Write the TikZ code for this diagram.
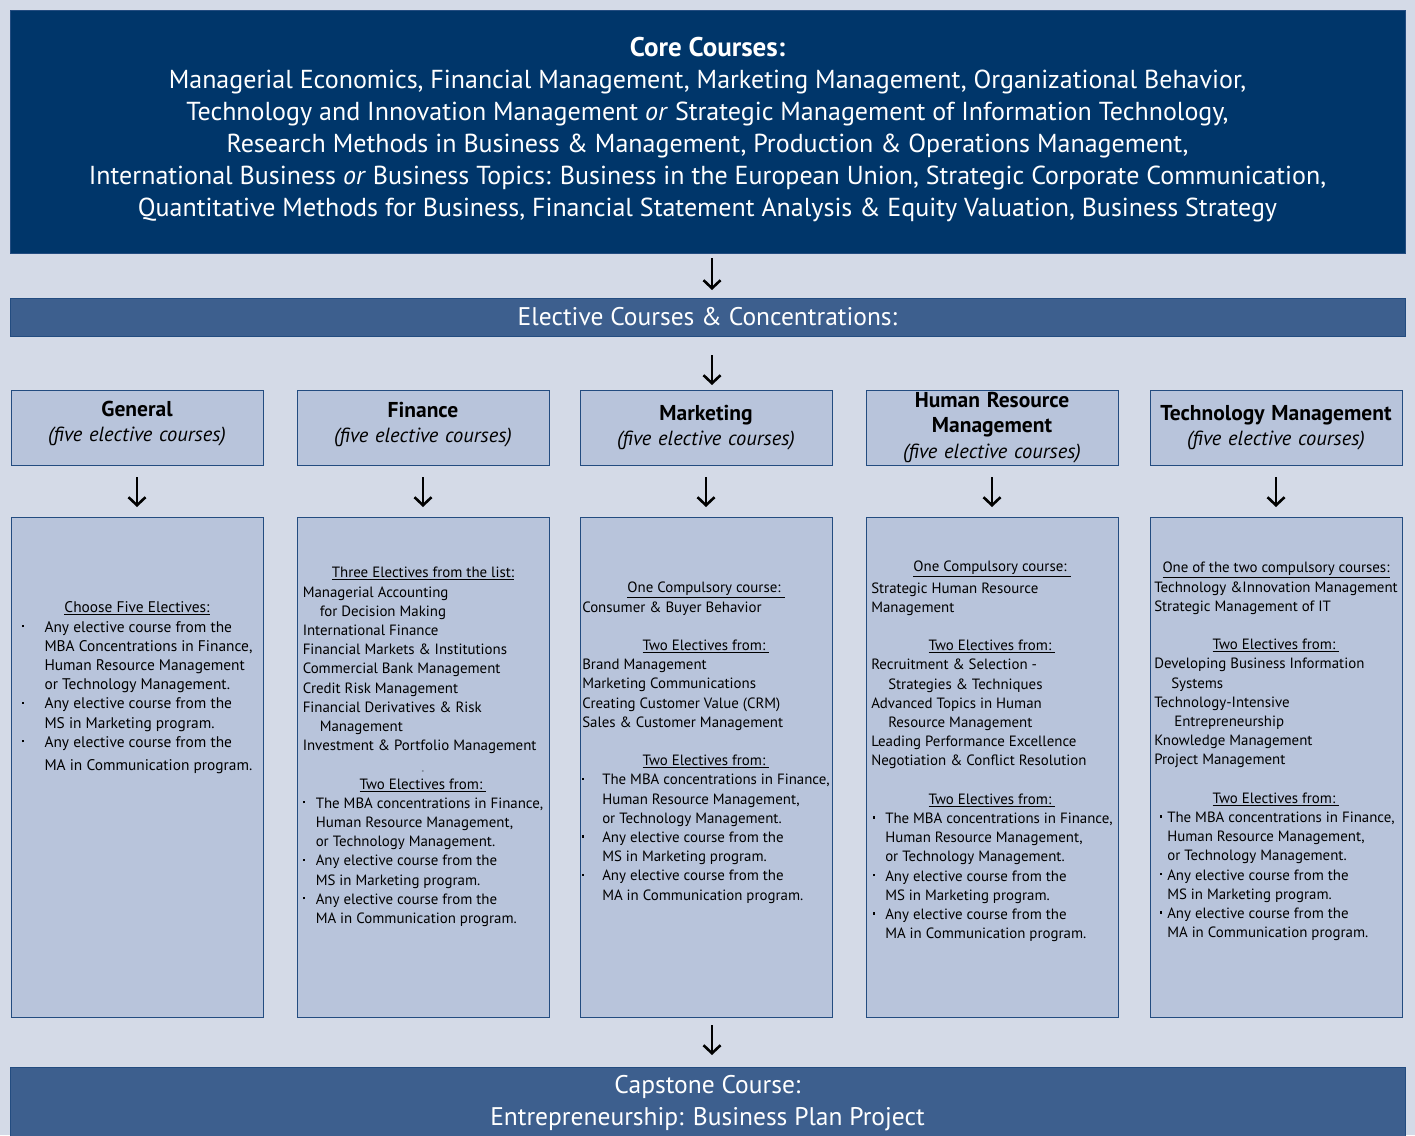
\documentclass[tikz,border=0pt]{standalone}
\usepackage{fontspec}
\setmainfont{PT Sans}
\usepackage{xcolor}
\usepackage{array}
\usetikzlibrary{positioning,arrows.meta}

\definecolor{pagebg}{RGB}{212,218,231}
\definecolor{corenavy}{RGB}{0,54,106}
\definecolor{barblue}{RGB}{61,95,142}
\definecolor{boxfill}{RGB}{184,196,219}
\definecolor{boxline}{RGB}{35,76,128}

% bullet at #1, text at #2
\newcommand\bl[2]{\rlap{\hspace*{#1}\raisebox{5pt}{\rule{2.2pt}{2.2pt}}}\hspace*{#2}}
\newcommand\ct[1]{\multicolumn{1}{@{}c@{}}{#1}}
\newcommand\hb[1]{{\fontsize{21.5}{25.5}\selectfont\bfseries #1}}

\begin{document}
\begin{tikzpicture}[x=1pt,y=1pt,node distance=45pt,
    >={Straight Barb[length=8pt,width=17pt,line width=2.6pt]}]
  \tikzstyle{bar}=[draw=boxline,line width=1pt,text=white,minimum width=1395pt,
    inner sep=0pt,outer sep=0pt,font=\fontsize{25.5}{32}\selectfont,align=center]
  \tikzstyle{head}=[draw=boxline,line width=1pt,fill=boxfill,minimum width=252pt,
    minimum height=75pt,text width=252pt,inner sep=0pt,outer sep=0pt,
    font=\fontsize{20.5}{25.5}\selectfont,align=center]
  \tikzstyle{card}=[draw=boxline,line width=1pt,fill=boxfill,minimum width=252pt,
    minimum height=500pt,inner sep=0pt,outer sep=0pt]
  \tikzstyle{list}=[inner sep=0pt,outer sep=0pt,font=\fontsize{14.9}{19.2}\selectfont]
  \tikzstyle{arr}=[->,line width=2.6pt,black]

  \useasboundingbox (0,0) rectangle (1415,-1135);
  \fill[pagebg] (0,0) rectangle (1415,-1135);

  \node[bar,fill=corenavy,minimum height=243pt,font=\fontsize{26}{32}\selectfont] (core) at (707.5,-131.5)
    {{\fontsize{27}{32}\selectfont\bfseries Core Courses:}\\
     Managerial Economics, Financial Management, Marketing Management, Organizational Behavior,\\
     Technology and Innovation Management \textit{or} Strategic Management of Information Technology,\\
     Research Methods in Business \& Management, Production \& Operations Management,\\
     International Business \textit{or} Business Topics: Business in the European Union, Strategic Corporate Communication,\\
     Quantitative Methods for Business, Financial Statement Analysis \& Equity Valuation, Business Strategy\\[-23pt]\mbox{}};
  \node[bar,fill=barblue,minimum height=38pt] (elec) [below=45pt of core]
    {Elective Courses \& Concentrations:};

  % concentrations
  \node[head] (hdM) [below=54pt of elec,xshift=-1.5pt]
    {\hb{Marketing}\\\textit{(five elective courses)}};
  \node[head] (hdF) [left=31pt of hdM]
    {\hb{Finance}\\\textit{(five elective courses)}\\[-15pt]\mbox{}};
  \node[head] (hdG) [left=34pt of hdF]
    {\hb{General}\\\textit{(five elective courses)}\\[-13pt]\mbox{}};
  \node[head] (hdH) [right=34pt of hdM]
    {\hb{Human Resource}\\\hb{Management}\\\textit{(five elective courses)}};
  \node[head] (hdT) [right=32pt of hdH]
    {\hb{Technology Management}\\\textit{(five elective courses)}};

  \node[card] (bxG) [below=52pt of hdG] {};
  \node[card] (bxF) [below=52pt of hdF] {};
  \node[card] (bxM) [below=52pt of hdM] {};
  \node[card] (bxH) [below=52pt of hdH] {};
  \node[card] (bxT) [below=52pt of hdT] {};

  \node[list,font=\fontsize{15.4}{19.2}\selectfont] (tG) [below=82.5pt of bxG.north] {\begin{tabular}{@{}l@{}}
    \ct{\underline{Choose Five Electives:}}\\
    \bl{0pt}{23pt}Any elective course from the\\
    \hspace*{23pt}MBA Concentrations in Finance,\\
    \hspace*{23pt}Human Resource Management\\
    \hspace*{23pt}or Technology Management.\\
    \bl{0pt}{23pt}Any elective course from the\\
    \hspace*{23pt}MS in Marketing program.\\
    \bl{0pt}{23pt}Any elective course from the\\[4pt]
    \hspace*{23pt}MA in Communication program.
  \end{tabular}};

  \node[list] (tF) [below=47.5pt of bxF.north] {\begin{tabular}{@{}l@{}}
    \ct{\underline{Three Electives from the list:}}\\
    Managerial Accounting\\
    \hspace*{17pt}for Decision Making\\
    International Finance\\
    Financial Markets \& Institutions\\
    Commercial Bank Management\\
    Credit Risk Management\\
    Financial Derivatives \& Risk\\
    \hspace*{17pt}Management\\
    Investment \& Portfolio Management\\
    \ct{\raisebox{-4pt}{\scriptsize -}}\\
    \ct{\underline{Two Electives from:\ }}\\
    \bl{0pt}{13pt}The MBA concentrations in Finance,\\
    \hspace*{13pt}Human Resource Management,\\
    \hspace*{13pt}or Technology Management.\\
    \bl{0pt}{13pt}Any elective course from the\\
    \hspace*{13pt}MS in Marketing program.\\
    \bl{0pt}{13pt}Any elective course from the\\
    \hspace*{13pt}MA in Communication program.
  \end{tabular}};

  \node[list] (tM) [below=62.5pt of bxM.north] {\begin{tabular}{@{}l@{}}
    \ct{\underline{One Compulsory course:\ }}\\
    Consumer \& Buyer Behavior\\
    \\
    \ct{\underline{Two Electives from:\ }}\\
    Brand Management\\
    Marketing Communications\\
    Creating Customer Value (CRM)\\
    Sales \& Customer Management\\
    \\
    \ct{\underline{Two Electives from:\ }}\\
    \bl{0pt}{20pt}The MBA concentrations in Finance,\\
    \hspace*{20pt}Human Resource Management,\\
    \hspace*{20pt}or Technology Management.\\
    \bl{0pt}{20pt}Any elective course from the\\
    \hspace*{20pt}MS in Marketing program.\\
    \bl{0pt}{20pt}Any elective course from the\\
    \hspace*{20pt}MA in Communication program.
  \end{tabular}};

  \node[list] (tH) [below=41.5pt of bxH.north] {\begin{tabular}{@{}l@{}}
    \ct{\underline{One Compulsory course:\ }}\\[2pt]
    Strategic Human Resource\\
    Management\\
    \\
    \ct{\underline{Two Electives from:\ }}\\
    Recruitment \& Selection -\\
    \hspace*{17pt}Strategies \& Techniques\\
    Advanced Topics in Human\\
    \hspace*{17pt}Resource Management\\
    Leading Performance Excellence\\
    Negotiation \& Conflict Resolution\\
    \\
    \ct{\underline{Two Electives from:\ }}\\
    \bl{2pt}{14pt}The MBA concentrations in Finance,\\
    \hspace*{14pt}Human Resource Management,\\
    \hspace*{14pt}or Technology Management.\\
    \bl{2pt}{14pt}Any elective course from the\\
    \hspace*{14pt}MS in Marketing program.\\
    \bl{2pt}{14pt}Any elective course from the\\
    \hspace*{14pt}MA in Communication program.
  \end{tabular}};

  \node[list] (tT) [below=42.5pt of bxT.north] {\begin{tabular}{@{}l@{}}
    \ct{\underline{One of the two compulsory courses:}}\\
    Technology \&Innovation Management\\
    Strategic Management of IT\\
    \\
    \ct{\underline{Two Electives from:\ }}\\
    Developing Business Information\\
    \hspace*{17pt}Systems\\
    Technology-Intensive\\
    \hspace*{20pt}Entrepreneurship\\
    Knowledge Management\\
    Project Management\\
    \\
    \ct{\underline{Two Electives from:\ }}\\
    \bl{6pt}{13pt}The MBA concentrations in Finance,\\
    \hspace*{13pt}Human Resource Management,\\
    \hspace*{13pt}or Technology Management.\\
    \bl{6pt}{13pt}Any elective course from the\\
    \hspace*{13pt}MS in Marketing program.\\
    \bl{6pt}{13pt}Any elective course from the\\
    \hspace*{13pt}MA in Communication program.
  \end{tabular}};

  \node[bar,fill=barblue,minimum height=72pt,anchor=north,yshift=-50pt] (cap)
    at (elec.south |- bxM.south)
    {Capstone Course:\\Entrepreneurship: Business Plan Project};

  \path[arr]
  ([xshift=4.5pt]core.south) edge [shorten <=5pt,shorten >=8pt] ([xshift=4.5pt]elec.north)
  ([xshift=4.5pt]elec.south) edge [shorten <=19pt,shorten >=5pt] ([xshift=4.5pt]elec.south |- hdM.north)
  (hdG) edge [shorten <=12pt,shorten >=10pt] (bxG)
  (hdF) edge [shorten <=12pt,shorten >=10pt] (bxF)
  (hdM) edge [shorten <=12pt,shorten >=10pt] (bxM)
  (hdH) edge [shorten <=12pt,shorten >=10pt] (bxH)
  (hdT) edge [shorten <=12pt,shorten >=10pt] (bxT)
  ([xshift=6pt]bxM.south) edge [shorten <=8pt,shorten >=12pt] ([xshift=6pt]bxM.south |- cap.north);
\end{tikzpicture}
\end{document}
